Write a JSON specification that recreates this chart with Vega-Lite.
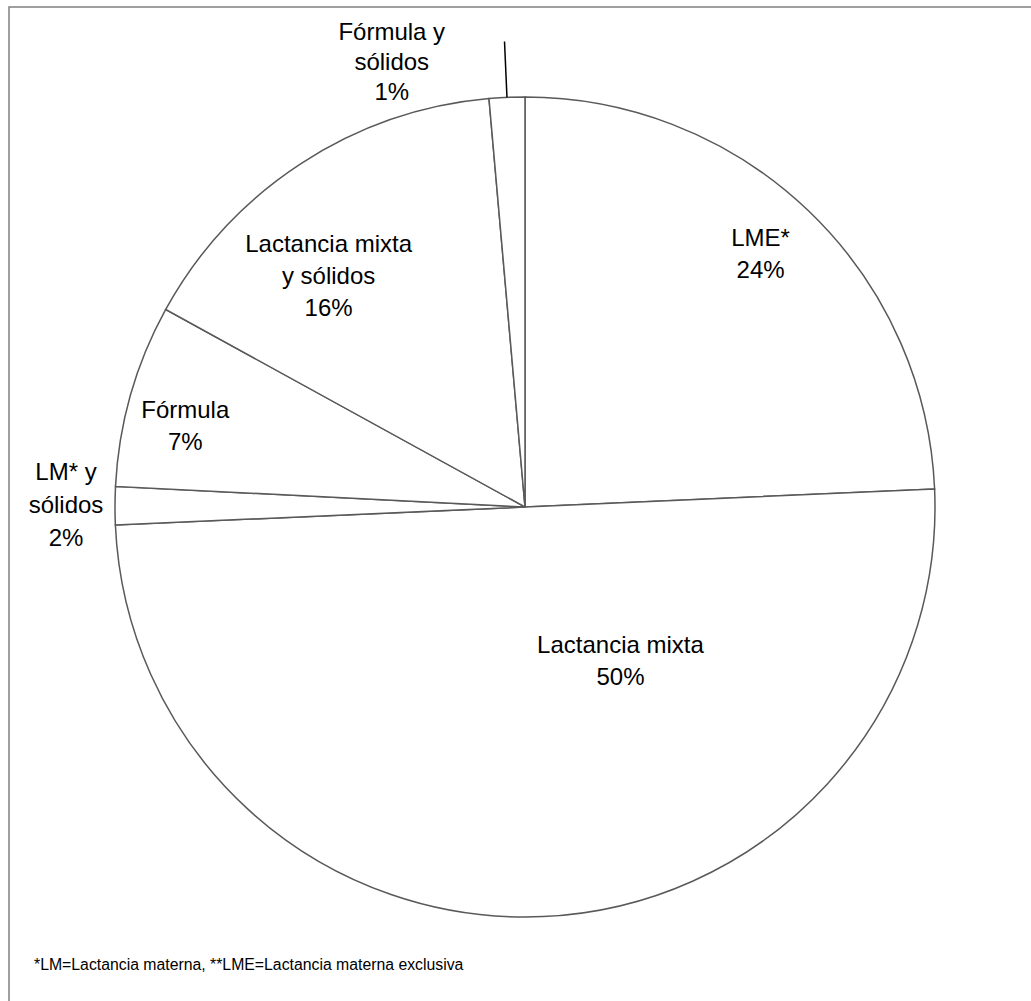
{
  "$schema": "https://vega.github.io/schema/vega-lite/v6.json",
  "autosize": {"type": "none"},
  "width": 1032,
  "height": 1000,
  "padding": {"left": 9, "top": 7, "right": 0, "bottom": 0},
  "background": "white",
  "view": {"stroke": "#808080", "strokeWidth": 1.5, "fill": "white"},
  "config": {
    "view": {"stroke": "#808080", "strokeWidth": 1.5},
    "text": {"font": "Liberation Sans", "fontSize": 24, "color": "black"}
  },
  "title": {
    "text": "*LM=Lactancia materna, **LME=Lactancia materna exclusiva",
    "orient": "bottom",
    "anchor": "start",
    "frame": "group",
    "align": "left",
    "offset": -49,
    "dx": 25,
    "font": "Liberation Sans",
    "fontSize": 15.8,
    "fontWeight": "normal",
    "color": "black",
    "baseline": "top"
  },
  "data": {
    "values": [
      {"cat": "LME*", "label": "LME*\n24%", "value": 24.3, "orden": 1},
      {"cat": "Lactancia mixta", "label": "Lactancia mixta\n50%", "value": 50.0, "orden": 2},
      {"cat": "LM* y sólidos", "label": "LM* y\nsólidos\n2%", "value": 1.5, "orden": 3},
      {"cat": "Fórmula", "label": "Fórmula\n7%", "value": 7.2, "orden": 4},
      {"cat": "Lactancia mixta y sólidos", "label": "Lactancia mixta\ny sólidos\n16%", "value": 15.6, "orden": 5},
      {"cat": "Fórmula y sólidos", "label": "Fórmula y\nsólidos\n1%", "value": 1.4, "orden": 6}
    ]
  },
  "encoding": {
    "theta": {"field": "value", "type": "quantitative", "stack": true},
    "order": {"field": "orden", "type": "quantitative"}
  },
  "layer": [
    {
      "mark": {"type": "arc", "outerRadius": 410, "fill": "white", "stroke": "#595959", "strokeWidth": 1.5}
    },
    {
      "mark": {"type": "arc", "innerRadius": 410, "outerRadius": 466, "padAngle": 1, "fill": null, "stroke": "black", "strokeWidth": 1.5},
      "encoding": {
        "strokeOpacity": {"condition": {"test": "datum.cat === 'Fórmula y sólidos'", "value": 1}, "value": 0}
      }
    },
    {
      "mark": {"type": "text", "radius": 348, "dx": -5, "dy": -17, "lineBreak": "\n", "lineHeight": 32, "baseline": "middle", "align": "center"},
      "encoding": {"text": {"condition": {"test": "datum.cat === 'LME*'", "field": "label"}, "value": ""}}
    },
    {
      "mark": {"type": "text", "radius": 170, "dx": 88, "dy": -31, "lineBreak": "\n", "lineHeight": 32, "baseline": "middle", "align": "center"},
      "encoding": {"text": {"condition": {"test": "datum.cat === 'Lactancia mixta'", "field": "label"}, "value": ""}}
    },
    {
      "mark": {"type": "text", "radius": 459, "dy": -33, "lineBreak": "\n", "lineHeight": 33, "baseline": "middle", "align": "center"},
      "encoding": {"text": {"condition": {"test": "datum.cat === 'LM* y sólidos'", "field": "label"}, "value": ""}}
    },
    {
      "mark": {"type": "text", "radius": 350, "dx": -3, "dy": 0, "lineBreak": "\n", "lineHeight": 32, "baseline": "middle", "align": "center"},
      "encoding": {"text": {"condition": {"test": "datum.cat === 'Fórmula'", "field": "label"}, "value": ""}}
    },
    {
      "mark": {"type": "text", "radius": 310, "dx": -27, "dy": -2, "lineBreak": "\n", "lineHeight": 32, "baseline": "middle", "align": "center"},
      "encoding": {"text": {"condition": {"test": "datum.cat === 'Lactancia mixta y sólidos'", "field": "label"}, "value": ""}}
    },
    {
      "mark": {"type": "text", "radius": 460, "dx": -113, "dy": -14, "lineBreak": "\n", "lineHeight": 30, "baseline": "middle", "align": "center"},
      "encoding": {"text": {"condition": {"test": "datum.cat === 'Fórmula y sólidos'", "field": "label"}, "value": ""}}
    }
  ]
}
